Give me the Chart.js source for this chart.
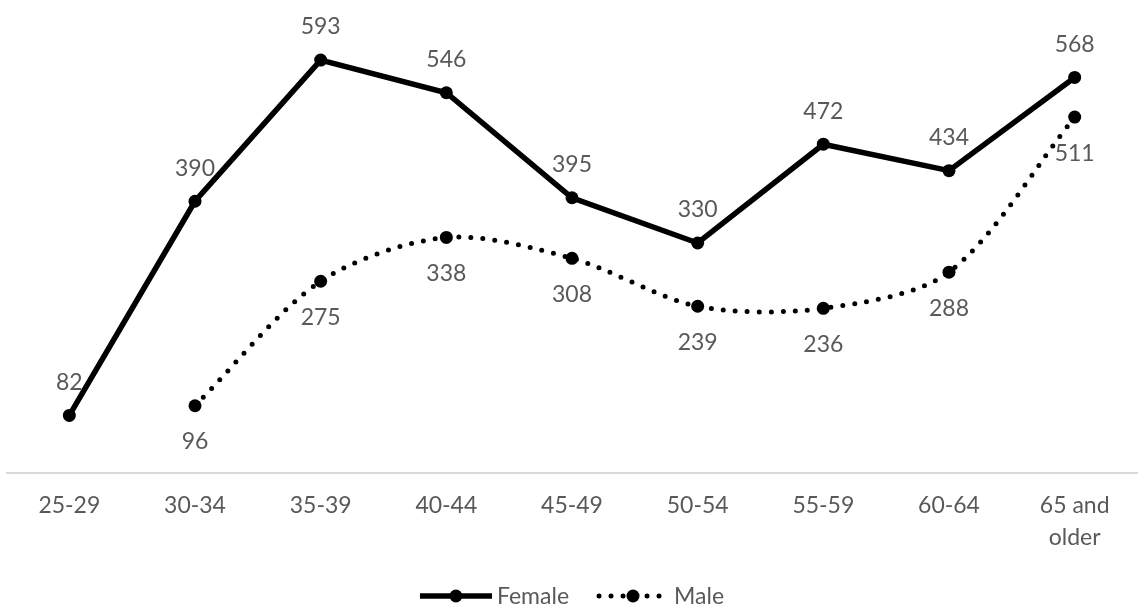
<!DOCTYPE html>
<html>
<head>
<meta charset="utf-8">
<script src="https://cdn.jsdelivr.net/npm/chart.js@4.4.1/dist/chart.umd.min.js"></script>
<style>
  html, body { margin: 0; padding: 0; background: #ffffff; overflow: hidden; }
  #wrap { position: relative; width: 1144px; height: 609px; }
</style>
</head>
<body>
<div id="wrap"><canvas id="chart"></canvas></div>
<script>
// Age groups along the horizontal axis
const categories = ['25-29', '30-34', '35-39', '40-44', '45-49', '50-54', '55-59', '60-64', ['65 and', 'older']];
// Counts per age group
const femaleValues = [82, 390, 593, 546, 395, 330, 472, 434, 568];
const maleValues = [null, 96, 275, 338, 308, 239, 236, 288, 511];
const seriesNames = ['Female', 'Male'];

const TEXT_COLOR = '#595959';
const FONT_FAMILY = 'Lato, "Open Sans", sans-serif';
const FONT_SIZE = 23;

// Value labels: Female above its points, Male below
const valueLabels = {
  id: 'valueLabels',
  afterDatasetsDraw(chart) {
    const ctx = chart.ctx;
    ctx.save();
    ctx.font = FONT_SIZE + 'px ' + FONT_FAMILY;
    ctx.fillStyle = TEXT_COLOR;
    ctx.textAlign = 'center';
    ctx.textBaseline = 'middle';
    chart.data.datasets.forEach((ds, i) => {
      const meta = chart.getDatasetMeta(i);
      meta.data.forEach((pt, j) => {
        const v = ds.data[j];
        if (v === null || v === undefined) return;
        const dy = i === 0 ? -33 : 36;
        ctx.fillText(String(v), pt.x, pt.y + dy);
      });
    });
    ctx.restore();
  }
};

// Legend with line samples and markers, centred under the plot
const lineLegend = {
  id: 'lineLegend',
  afterDraw(chart) {
    const ctx = chart.ctx;
    const area = chart.chartArea;
    const cx = (area.left + area.right) / 2;
    const y = 596;
    ctx.save();
    ctx.font = FONT_SIZE + 'px ' + FONT_FAMILY;
    const items = chart.data.datasets.map(ds => ({
      ds, w: ctx.measureText(ds.label).width
    }));
    const sample = 72, gapText = 5, gapItems = 28;
    let total = 0;
    items.forEach((it, k) => { total += sample + gapText + it.w + (k ? gapItems : 0); });
    let x = cx - total / 2;
    items.forEach((it, k) => {
      if (k) x += gapItems;
      const ds = it.ds;
      const dashed = ds.borderDash && ds.borderDash.length;
      ctx.strokeStyle = ds.borderColor;
      ctx.lineWidth = ds.borderWidth;
      ctx.lineCap = dashed ? 'round' : 'butt';
      ctx.setLineDash(ds.borderDash || []);
      ctx.beginPath();
      ctx.moveTo(x + (dashed ? 2 : 0), y);
      ctx.lineTo(x + sample, y);
      ctx.stroke();
      ctx.setLineDash([]);
      ctx.fillStyle = ds.pointBackgroundColor;
      ctx.beginPath();
      ctx.arc(x + sample / 2, y, ds.pointRadius, 0, Math.PI * 2);
      ctx.fill();
      ctx.fillStyle = TEXT_COLOR;
      ctx.textAlign = 'left';
      ctx.textBaseline = 'middle';
      ctx.fillText(ds.label, x + sample + gapText, y + 1);
      x += sample + gapText + it.w;
    });
    ctx.restore();
  }
};

const ctx = document.getElementById('chart').getContext('2d');
new Chart(ctx, {
  type: 'line',
  data: {
    labels: categories,
    datasets: [
      {
        label: seriesNames[0],
        data: femaleValues,
        borderColor: '#000000',
        backgroundColor: '#000000',
        borderWidth: 5.5,
        tension: 0,
        pointRadius: 6.5,
        pointBorderWidth: 0,
        pointBackgroundColor: '#000000',
        pointHoverRadius: 6.5
      },
      {
        label: seriesNames[1],
        data: maleValues,
        borderColor: '#000000',
        backgroundColor: '#000000',
        borderWidth: 5,
        borderDash: [0, 12],
        borderCapStyle: 'round',
        tension: 0.3,
        pointRadius: 6.5,
        pointBorderWidth: 0,
        pointBackgroundColor: '#000000',
        pointHoverRadius: 6.5
      }
    ]
  },
  options: {
    responsive: true,
    maintainAspectRatio: false,
    animation: false,
    devicePixelRatio: 1,
    layout: { padding: { left: 6, right: 2, top: 0, bottom: 0 } },
    plugins: {
      legend: { display: false },
      tooltip: { enabled: false }
    },
    scales: {
      x: {
        offset: true,
        grid: { display: false, drawTicks: false },
        border: { display: true, color: '#d9d9d9', width: 2 },
        ticks: {
          color: TEXT_COLOR,
          font: { family: FONT_FAMILY, size: FONT_SIZE, lineHeight: 32 / FONT_SIZE },
          padding: 17,
          maxRotation: 0,
          autoSkip: false
        },
        afterFit(scale) { scale.height = 136.5; }
      },
      y: {
        display: false,
        min: 0,
        max: 670
      }
    }
  },
  plugins: [valueLabels, lineLegend]
});
</script>
</body>
</html>
